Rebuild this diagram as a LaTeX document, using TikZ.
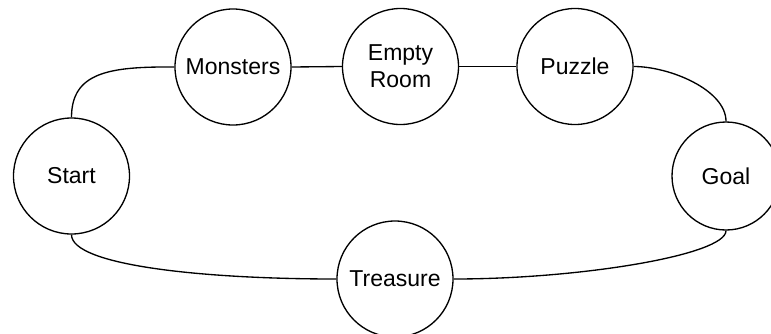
\documentclass[tikz,border=0pt]{standalone}
\usepackage{fontspec}
\setmainfont{Liberation Sans}
\begin{document}
\begin{tikzpicture}[x=0.75pt,y=-0.75pt,
  room/.style={circle,draw=black,line width=1pt,fill=white,inner sep=0pt,
    minimum size=87pt,align=center,font=\fontsize{17.25}{20.25}\selectfont},
  link/.style={draw=black,line width=1pt}]
\useasboundingbox (0,0) rectangle (771,333);

% rooms
\node[room] (start)    at (71.5,176)  {Start};
\node[room] (monsters) at (233,67)    {Monsters};
\node[room] (empty)    at (400.5,66.5) {Empty\\Room};
\node[room] (puzzle)   at (575,66.5)  {Puzzle};
\node[room,minimum size=81pt] (goal) at (726,176) {Goal};
\node[room] (treasure) at (395,279)   {Treasure};

% corridors
\path[link] (start.north) .. controls (71.5,72) and (110,66.5) .. (monsters.west);
\path[link] (monsters.east) -- (empty.west);
\path[link] (empty.east) -- (puzzle.west);
\path[link] (puzzle.east) .. controls (670,66.5) and (726,90) .. (goal.north);
\path[link] (start.south) .. controls (71.5,265) and (200,279) .. (treasure.west);
\path[link] (treasure.east) .. controls (580,279) and (726,255) .. (goal.south);
\end{tikzpicture}
\end{document}
